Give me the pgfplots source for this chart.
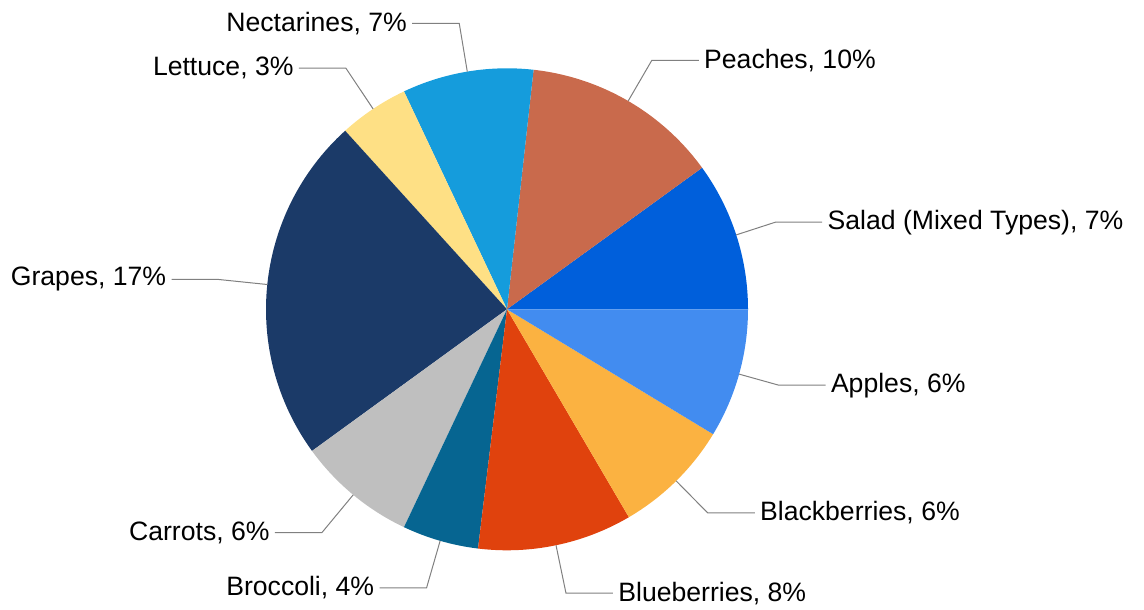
\documentclass[border=0pt]{standalone}
\usepackage{pgfplots}
\pgfplotsset{compat=1.18}
\usepackage{pgfplotstable}
\usepackage{fontspec}
\setmainfont{Liberation Sans}

% slice colours, in table order
\definecolor{c0}{HTML}{005FDB}
\definecolor{c1}{HTML}{C96A4C}
\definecolor{c2}{HTML}{159CDC}
\definecolor{c3}{HTML}{FEE085}
\definecolor{c4}{HTML}{1B3A68}
\definecolor{c5}{HTML}{BFBFBF}
\definecolor{c6}{HTML}{066591}
\definecolor{c7}{HTML}{E0420D}
\definecolor{c8}{HTML}{FBB241}
\definecolor{c9}{HTML}{428CF0}
\definecolor{leader}{HTML}{808080}

% share = part of the pie (in %), pct = printed label value,
% kr = radius of the leader line's elbow
\pgfplotstableread[col sep=comma]{
name,share,pct,kr
Salad (Mixed Types),9.99,7,282
Peaches,13.25,10,288
Nectarines,8.79,7,290
Lettuce,4.69,3,290
Grapes,23.28,17,290
Carrots,7.97,6,290
Broccoli,5.11,4,290
Blueberries,10.36,8,290
Blackberries,7.89,6,286
Apples,8.67,6,282
}\piedata

\begin{document}
\begin{tikzpicture}
\begin{axis}[
    scale only axis,
    width=572pt, height=303.5pt,
    xmin=-507, xmax=637,
    ymin=-297.7, ymax=309.3,
    hide axis, clip=false,
  ]
  \path (rel axis cs:0,0) rectangle (rel axis cs:1,1);
  \def\acc{0}
  \pgfplotsforeachungrouped \i in {0,...,9}{%
    \pgfplotstablegetelem{\i}{share}\of\piedata \let\s\pgfplotsretval
    \pgfplotstablegetelem{\i}{name}\of\piedata \let\nm\pgfplotsretval
    \pgfplotstablegetelem{\i}{pct}\of\piedata \let\pc\pgfplotsretval
    \pgfplotstablegetelem{\i}{kr}\of\piedata \let\kr\pgfplotsretval
    \pgfmathsetmacro\a{\acc*3.6}%
    \pgfmathsetmacro\b{(\acc+\s)*3.6}%
    \pgfmathsetmacro\m{(\a+\b)/2}%
    \pgfmathsetmacro\sx{241*cos(\a)}%
    \pgfmathsetmacro\sy{241*sin(\a)}%
    \pgfmathsetmacro\ex{241*cos(\m)}%
    \pgfmathsetmacro\ey{241*sin(\m)}%
    \pgfmathsetmacro\kx{\kr*cos(\m)}%
    \pgfmathsetmacro\ky{\kr*sin(\m)}%
    \pgfmathtruncatemacro\rt{cos(\m)>0}%
    \ifnum\rt=1
      \pgfmathsetmacro\hx{\kx+47}\def\anc{west}%
    \else
      \pgfmathsetmacro\hx{\kx-47}\def\anc{east}%
    \fi
    \edef\cmd{%
      \noexpand\fill[c\i] (axis cs:0,0) -- (axis cs:\sx,\sy)
        arc[start angle=\a, end angle=\b, radius=120.5pt] -- cycle;
      \noexpand\draw[leader, line width=0.5pt] (axis cs:\ex,\ey) -- (axis cs:\kx,\ky) -- (axis cs:\hx,\ky);
      \noexpand\node[anchor=\anc, inner sep=2.5pt, font=\noexpand\fontsize{13.3}{15}\noexpand\selectfont]
        at (axis cs:\hx,\ky) {\nm, \pc\noexpand\%};
    }%
    \cmd
    \pgfmathsetmacro\acc{\acc+\s}%
  }
\end{axis}
\end{tikzpicture}
\end{document}
